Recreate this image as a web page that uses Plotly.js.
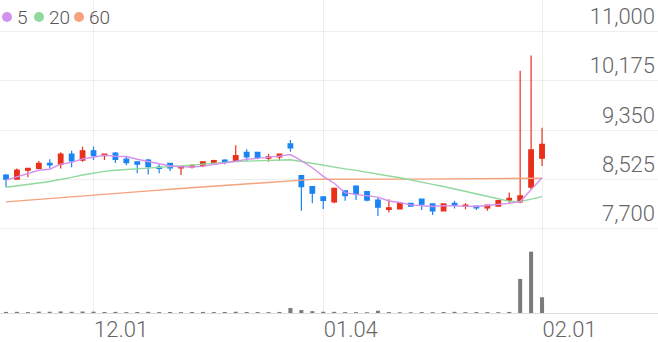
<!DOCTYPE html>
<html><head><meta charset="utf-8">
<script src="https://cdn.plot.ly/plotly-3.0.1.min.js"></script>
<style>html,body{margin:0;padding:0;background:#fff}#chart{width:658px;height:342px}</style>
</head><body><div id="chart"></div>
<script>
const dates = ['2023-11-21','2023-11-22','2023-11-23','2023-11-24','2023-11-27','2023-11-28','2023-11-29','2023-11-30',
  '2023-12-01','2023-12-04','2023-12-05','2023-12-06','2023-12-07','2023-12-08','2023-12-11','2023-12-12','2023-12-13',
  '2023-12-14','2023-12-15','2023-12-18','2023-12-19','2023-12-20','2023-12-21','2023-12-22','2023-12-26','2023-12-27',
  '2023-12-28','2024-01-02','2024-01-03','2024-01-04','2024-01-05','2024-01-08','2024-01-09','2024-01-10','2024-01-11',
  '2024-01-12','2024-01-15','2024-01-16','2024-01-17','2024-01-18','2024-01-19','2024-01-22','2024-01-23','2024-01-24',
  '2024-01-25','2024-01-26','2024-01-29','2024-01-30','2024-01-31','2024-02-01'];
const openP  = [8600,8530,8680,8710,8795,8780,8950,8850,9005,8925,8965,8865,8820,8850,8730,8795,8720,8735,8755,8805,8850,8835,8980,8980,8880,8905,9120,8590,8405,8235,8150,8335,8415,8320,8180,8025,8030,8125,8195,8115,8000,8125,8080,8080,8050,8080,8180,8150,8395,8880];
const highP  = [8615,8710,8720,8835,8865,8980,9005,9075,9075,8955,8985,8920,8830,8870,8780,8805,8745,8780,8830,8855,8865,9100,9030,8990,8950,8955,9185,8600,8410,8245,8390,8345,8430,8325,8220,8195,8130,8130,8200,8120,8120,8170,8125,8085,8100,8175,8305,10345,10600,9390];
const lowP   = [8400,8520,8560,8695,8710,8710,8730,8820,8850,8850,8800,8765,8630,8610,8630,8665,8600,8710,8730,8800,8780,8820,8835,8865,8820,8835,8990,8000,8125,8030,8125,8170,8180,8160,7915,7970,8025,8075,8015,7930,7995,8040,8025,8015,8000,8075,8115,8125,8360,8750];
const closeP = [8530,8680,8710,8795,8770,8950,8835,9005,8925,8950,8860,8805,8780,8740,8710,8720,8740,8755,8820,8840,8815,8925,8905,8895,8905,8950,9055,8405,8295,8175,8375,8255,8280,8180,8060,8050,8125,8080,8110,8000,8115,8095,8095,8050,8095,8170,8210,8250,9020,9115];
const volume = [55000,60000,48000,70000,65000,80000,62000,75000,68000,52000,58000,45000,50000,60000,47000,52000,44000,50000,56000,48000,52000,65000,50000,47000,42000,55000,260000,150000,95000,65000,60000,45000,42000,40000,115000,48000,40000,38000,45000,42000,50000,60000,42000,48000,45000,40000,55000,1750000,3150000,810000];
const ma5  = [8515,8570,8630,8680,8697,8781,8812,8871,8897,8933,8915,8909,8864,8827,8779,8751,8738,8733,8749,8775,8794,8831,8861,8876,8889,8916,8942,8842,8722,8576,8461,8301,8276,8253,8230,8165,8139,8099,8085,8073,8086,8080,8083,8071,8090,8101,8124,8155,8349,8553];
const ma20 = [8395,8415,8440,8465,8490,8520,8560,8600,8635,8660,8680,8695,8705,8715,8728,8740,8755,8770,8785,8796,8810,8823,8832,8837,8844,8844,8855,8825,8794,8755,8731,8703,8678,8650,8618,8584,8553,8520,8484,8442,8407,8366,8325,8283,8242,8203,8161,8153,8190,8237];
const ma60 = [8150,8165,8178,8192,8205,8220,8235,8250,8265,8278,8292,8305,8320,8333,8347,8360,8373,8387,8400,8413,8427,8441,8455,8468,8482,8496,8512,8522,8526,8528,8530,8530,8531,8531,8530,8530,8531,8531,8532,8531,8532,8532,8533,8533,8534,8535,8536,8537,8540,8545];
const maLabels = ['5','20','60'];
const maColors = ['#d391ee','#90d99c','#f6a27c'];
const xTickVals = ['2023-12-01','2024-01-04','2024-02-01'];
const xTickText = ['12.01','01.04','02.01'];
const priceTicks = [7700,8525,9350,10175,11000];

const W = 658, PH = 313;
const maSeries = [ma5, ma20, ma60];
const traces = [];
[2,1,0].forEach(i => {
  traces.push({type:'scatter', mode:'lines', x:dates, y:maSeries[i], xaxis:'x', yaxis:'y',
    line:{color:maColors[i], width:1.4}, hoverinfo:'skip', showlegend:false});
});
traces.push({type:'candlestick', x:dates, open:openP, high:highP, low:lowP, close:closeP,
  xaxis:'x', yaxis:'y', showlegend:false, hoverinfo:'skip', whiskerwidth:0,
  increasing:{line:{color:'#e8301a', width:1.2}, fillcolor:'#e8301a'},
  decreasing:{line:{color:'#1b84f2', width:1.2}, fillcolor:'#1b84f2'}});
traces.push({type:'bar', x:dates, y:volume, xaxis:'x', yaxis:'y2', width:0.37,
  marker:{color:'#7b7b7b'}, hoverinfo:'skip', showlegend:false});

const annotations = [], shapes = [];
const legX = [7, 39, 79];
maLabels.forEach((lab, i) => {
  shapes.push({type:'circle', xref:'paper', yref:'paper',
    x0:(legX[i]-5)/W, x1:(legX[i]+5)/W, y0:1-22/PH, y1:1-12/PH,
    fillcolor:maColors[i], line:{width:0}});
  annotations.push({xref:'paper', yref:'paper', x:(legX[i]+8)/W, y:1-17/PH,
    xanchor:'left', yanchor:'middle', showarrow:false, text:lab,
    font:{family:'Roboto', size:19, color:'#555', weight:300}});
});

const layout = {
  width:658, height:342, margin:{l:0, r:0, t:0, b:29},
  paper_bgcolor:'#fff', plot_bgcolor:'#fff', showlegend:false,
  font:{family:'Roboto', color:'#666'},
  boxgap:0.4,
  xaxis:{type:'category', anchor:'y2', range:[-0.548, 59.6], rangeslider:{visible:false},
    tickvals:xTickVals, ticktext:xTickText, ticks:'', showgrid:true, gridcolor:'#eeeeee',
    ticklabelposition:'outside right', ticklabelstandoff:-3,
    tickfont:{family:'Roboto', size:22, color:'#666', weight:300},
    showline:true, linecolor:'#dddddd', linewidth:1, zeroline:false, fixedrange:true},
  yaxis:{domain:[73/PH, 1], range:[7511, 11531], side:'right', anchor:'x',
    tickvals:priceTicks, tickformat:',', ticks:'', showgrid:true, gridcolor:'#eeeeee',
    ticklabelposition:'inside top', tickfont:{family:'Roboto', size:22, color:'#666', weight:300},
    zeroline:false, showline:false, fixedrange:true},
  yaxis2:{domain:[0, 73/PH], range:[0, 3751000], anchor:'x', showgrid:false,
    showticklabels:false, zeroline:false, showline:false, fixedrange:true},
  shapes:shapes, annotations:annotations
};
Plotly.newPlot('chart', traces, layout, {staticPlot:true, displayModeBar:false});
</script></body></html>
